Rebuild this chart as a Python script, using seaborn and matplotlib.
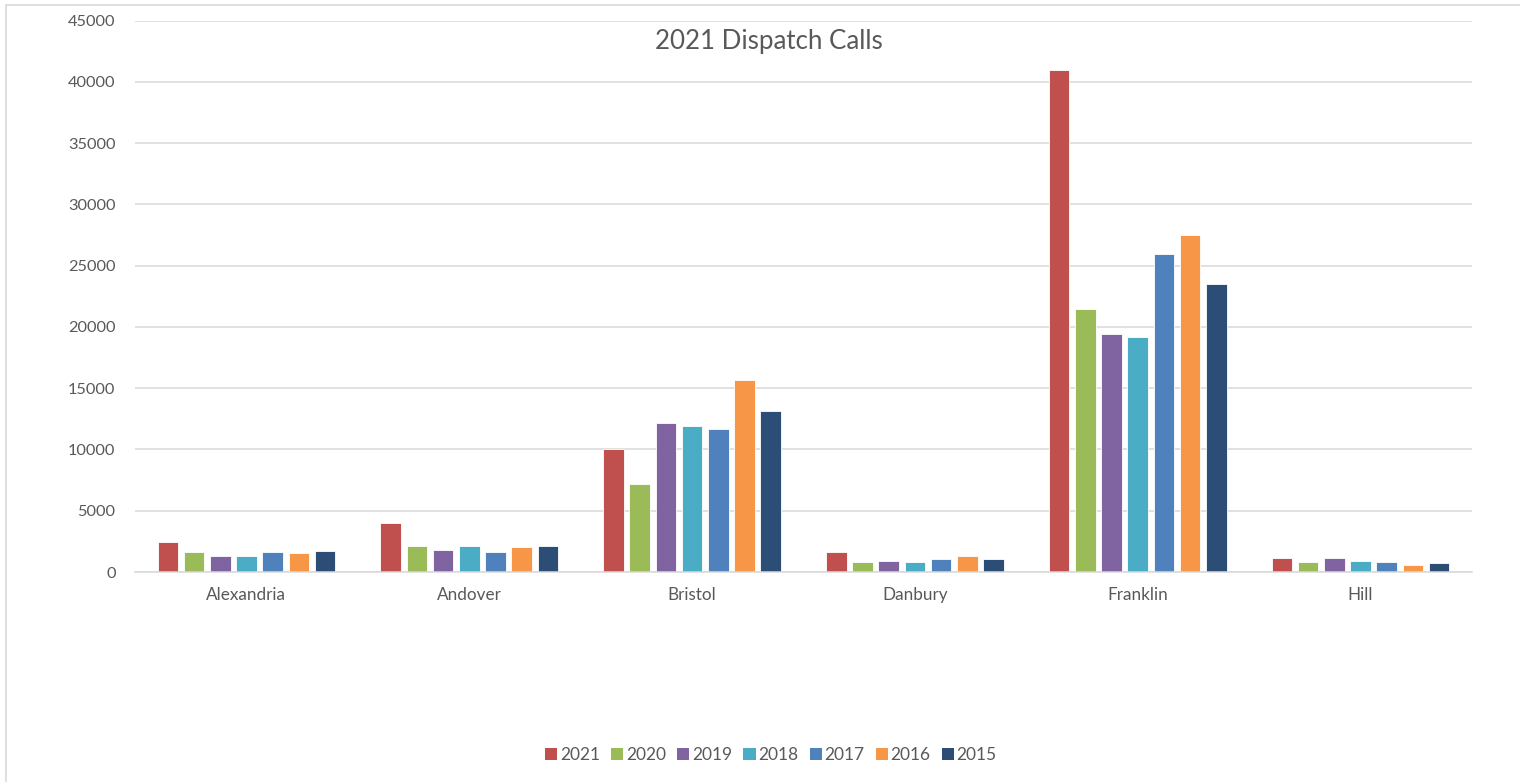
import matplotlib
matplotlib.use("Agg")
import matplotlib.pyplot as plt
import matplotlib.patches as mpatches
import seaborn as sns
import pandas as pd

towns = ["Alexandria", "Andover", "Bristol", "Danbury", "Franklin", "Hill"]
years = ["2021", "2020", "2019", "2018", "2017", "2016", "2015"]
v2021 = [2480, 3980, 10000, 1600, 41000, 1150]
v2020 = [1630, 2100, 7180, 830, 21450, 800]
v2019 = [1330, 1830, 12150, 930, 19450, 1150]
v2018 = [1330, 2130, 11950, 830, 19200, 880]
v2017 = [1630, 1650, 11700, 1020, 25950, 820]
v2016 = [1580, 2000, 15700, 1270, 27500, 600]
v2015 = [1680, 2140, 13120, 1070, 23500, 760]
colors = ["#C0504D", "#9BBB59", "#8064A2", "#4BACC6", "#4F81BD", "#F79646", "#2C4D75"]

series = [v2021, v2020, v2019, v2018, v2017, v2016, v2015]
rows = []
for y, vals in zip(years, series):
    for t, v in zip(towns, vals):
        rows.append({"Town": t, "Year": y, "Calls": v})
df = pd.DataFrame(rows)

sns.set_theme(style="white")
plt.rcParams["font.family"] = ["Lato", "DejaVu Sans"]
txt = "#595959"

fig = plt.figure(figsize=(15.2, 7.82), dpi=100)
ax = fig.add_axes([135/1520, 1-572/782, (1472-135)/1520, (572-20.5)/782])

sns.barplot(data=df, x="Town", y="Calls", hue="Year", order=towns, hue_order=years,
            palette=colors, width=0.823, gap=0.214, ax=ax, legend=False,
            edgecolor="white", linewidth=0.6, saturation=1)

ax.set_ylim(0, 45000)
ax.set_xlim(-0.5, 5.5)
ax.set_yticks(range(0, 45001, 5000))
ax.yaxis.grid(True, color="#D9D9D9", linewidth=1.1)
ax.set_axisbelow(True)
for s in ["top", "right", "left"]:
    ax.spines[s].set_visible(False)
ax.spines["bottom"].set_color("#D9D9D9")
ax.spines["bottom"].set_linewidth(1.1)
ax.tick_params(axis="both", length=0, colors=txt)
ax.tick_params(axis="y", pad=14, labelsize=11.8)
ax.tick_params(axis="x", pad=11, labelsize=12.3)
ax.set_xlabel("")
ax.set_ylabel("")

fig.text(769/1520, 1-41/782, "2021 Dispatch Calls", ha="center", va="center",
         fontsize=18.6, color=txt)

handles = [mpatches.Patch(facecolor=c, edgecolor="none", label=y) for c, y in zip(colors, years)]
fig.legend(handles=handles, loc="center", bbox_to_anchor=(771/1520, 1-755/782), ncol=7,
           frameon=False, fontsize=12.5, labelcolor=txt, handlelength=0.7, handleheight=0.7,
           handletextpad=0.15, columnspacing=0.65)

border = mpatches.Rectangle((6/1520, -0.1), 1.2, 1-4.5/782+0.1, transform=fig.transFigure,
                            fill=False, edgecolor="#D9D9D9", linewidth=1.2)
fig.patches.append(border)

fig.savefig("out.png", dpi=100)
